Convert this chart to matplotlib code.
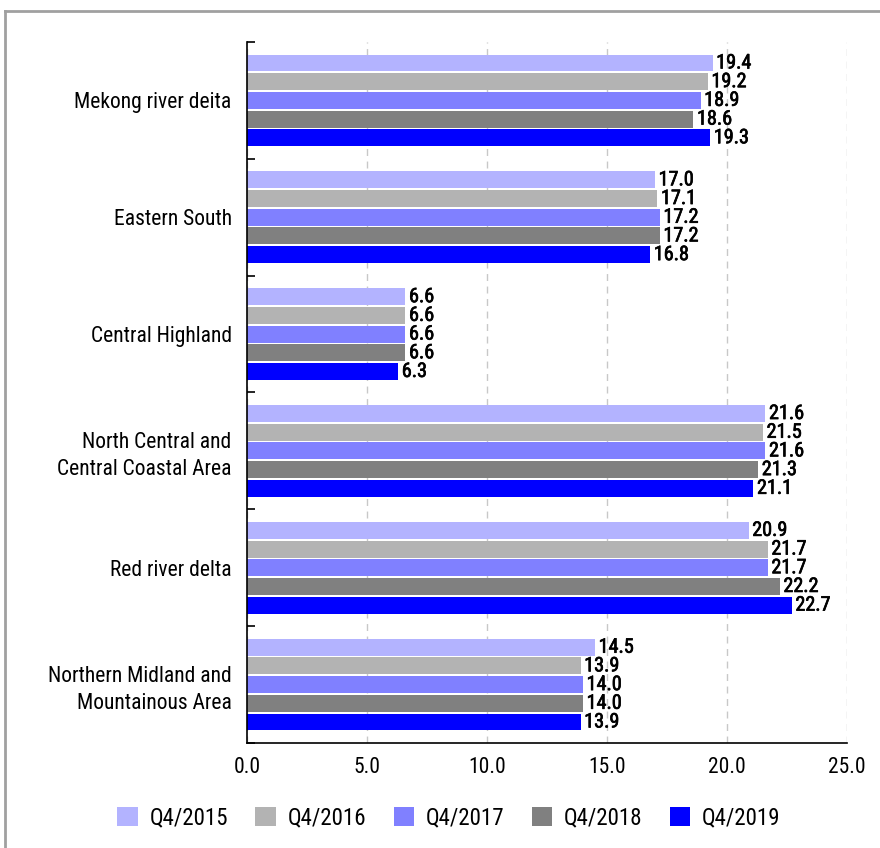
import numpy as np
import matplotlib.pyplot as plt
import matplotlib.patheffects as pe
from matplotlib import font_manager
from matplotlib.lines import Line2D

names = {f.name for f in font_manager.fontManager.ttflist}
fam = [f for f in ['Liberation Sans Narrow', 'Roboto Condensed', 'Roboto'] if f in names] + ['DejaVu Sans']
plt.rcParams['font.family'] = fam

regions = ['Mekong river deita', 'Eastern South', 'Central Highland',
           'North Central and\nCentral Coastal Area', 'Red river delta',
           'Northern Midland and\nMountainous Area']
series = ['Q4/2015', 'Q4/2016', 'Q4/2017', 'Q4/2018', 'Q4/2019']
q2015 = [19.4, 17.0, 6.6, 21.6, 20.9, 14.5]
q2016 = [19.2, 17.1, 6.6, 21.5, 21.7, 13.9]
q2017 = [18.9, 17.2, 6.6, 21.6, 21.7, 14.0]
q2018 = [18.6, 17.2, 6.6, 21.3, 22.2, 14.0]
q2019 = [19.3, 16.8, 6.3, 21.1, 22.7, 13.9]
colors = ['#B3B3FF', '#B3B3B3', '#8080FF', '#808080', '#0000FF']

fig = plt.figure(figsize=(8.8, 8.48), dpi=100)
ax = fig.add_axes([0.2807, 0.1238, 0.6818, 0.8267])

y = np.arange(len(regions))
pitch = 0.16
for i, (vals, c, lab) in enumerate(zip([q2015, q2016, q2017, q2018, q2019], colors, series)):
    pos = y - 0.32 + i * pitch
    ax.barh(pos, vals, height=0.145, color=c, label=lab, zorder=2)
    for p, v in zip(pos, vals):
        ax.text(v + 0.15, p, f'{v:.1f}', va='center', ha='left', fontsize=14.5,
                color='black', zorder=3,
                path_effects=[pe.withStroke(linewidth=0.5, foreground='black')])

ax.set_ylim(len(regions) - 0.5, -0.5)
ax.set_xlim(0, 25)
ax.set_xticks(np.arange(0, 26, 5))
ax.set_xticklabels([f'{v:.1f}' for v in np.arange(0, 26, 5)], fontsize=15.5)
ax.set_yticks(y)
ax.set_yticklabels(regions, fontsize=15.5, linespacing=1.35)
ax.tick_params(axis='y', which='major', length=0, pad=11)
ax.set_yticks(np.arange(-0.5, len(regions)), minor=True)
ax.tick_params(axis='y', which='minor', direction='in', length=6, width=1.2)
ax.tick_params(axis='x', length=0, pad=10)
ax.xaxis.grid(True, linestyle=(0, (5, 4)), color='#C8C8C8', linewidth=1, zorder=0)
ax.set_axisbelow(True)
for s in ['top', 'right']:
    ax.spines[s].set_visible(False)
ax.spines['left'].set_linewidth(1.2)
ax.spines['bottom'].set_linewidth(1.2)

handles, labels = ax.get_legend_handles_labels()
fig.legend(handles, labels, loc='center', bbox_to_anchor=(0.51, 0.035), ncol=5,
           frameon=False, fontsize=16.5, handlelength=0.9, handleheight=0.9,
           handletextpad=0.5, columnspacing=1.2)

# outer gray frame
fig.add_artist(Line2D([0.006, 1.0], [1 - 11 / 848, 1 - 11 / 848], color='#A0A0A0', lw=2))
fig.add_artist(Line2D([0.006, 0.006], [0.0, 1 - 11 / 848], color='#A0A0A0', lw=2))

fig.savefig('out.png', dpi=100)
